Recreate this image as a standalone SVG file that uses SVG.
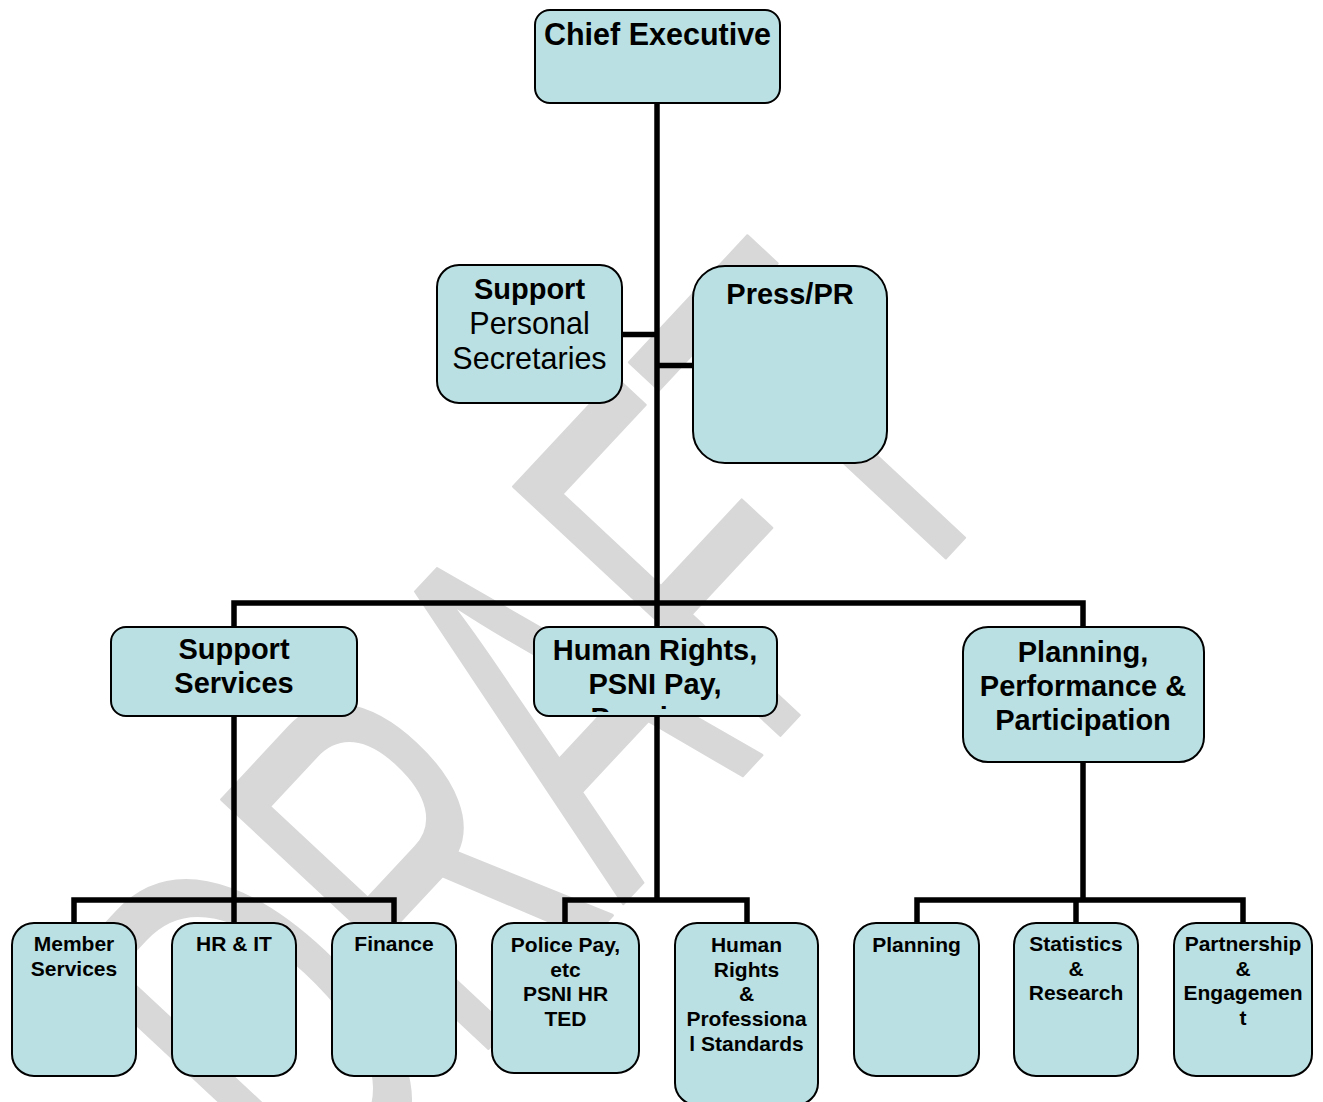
<svg xmlns="http://www.w3.org/2000/svg" width="1323" height="1102" viewBox="0 0 1323 1102">
<defs>
<style>
.box{fill:#bae0e3;stroke:#000;stroke-width:2}
.t{font-family:'Liberation Sans',Arial,sans-serif;fill:#000;text-anchor:middle}
.b{font-weight:bold}
.l{font-size:29px}
.s{font-size:21px;font-weight:bold}
.conn{fill:none;stroke:#000;stroke-width:5.5;stroke-linejoin:miter;stroke-linecap:butt}
.wm{font-family:'Liberation Sans',Arial,sans-serif;font-size:530px;fill:#d8d8d8;stroke:#d8d8d8;stroke-width:3;stroke-linejoin:round}
</style>
<clipPath id="hrclip"><rect x="534" y="627" width="243" height="85"/></clipPath>
</defs>
<rect width="1323" height="1102" fill="#fff"/>
<g id="watermark">
<text class="wm" transform="translate(319,1230) rotate(-47)" textLength="1027" lengthAdjust="spacingAndGlyphs">DRAFT</text>
</g>
<g id="connectors">
<path class="conn" d="M657,103 V627"/>
<path class="conn" d="M622,334.5 H657"/>
<path class="conn" d="M657,365.5 H693"/>
<path class="conn" d="M234,627 V603 H1083 V627"/>
<path class="conn" d="M234,716 V923"/>
<path class="conn" d="M74,923 V900 H394 V923"/>
<path class="conn" d="M657,716 V900"/>
<path class="conn" d="M565,923 V900 H747 V923"/>
<path class="conn" d="M1083,762 V900"/>
<path class="conn" d="M917,923 V900 H1243 V923"/>
<path class="conn" d="M1076,900 V923"/>
</g>
<g id="chief">
<rect class="box" x="535" y="10" width="245" height="93" rx="15"/>
<text class="t b" style="font-size:30.5px" x="657.5" y="45">Chief Executive</text>
</g>
<g id="sps">
<rect class="box" x="437" y="265" width="185" height="138" rx="22"/>
<text class="t" style="font-size:30.5px" x="529.5" y="299"><tspan class="b" style="font-size:29px">Support</tspan><tspan x="529.5" y="334">Personal</tspan><tspan x="529.5" y="369">Secretaries</tspan></text>
</g>
<g id="press">
<rect class="box" x="693" y="266" width="194" height="197" rx="32"/>
<text class="t b l" x="790" y="304">Press/PR</text>
</g>
<g id="support-services">
<rect class="box" x="111" y="627" width="246" height="89" rx="15"/>
<text class="t b l" x="234" y="659">Support<tspan x="234" y="693">Services</tspan></text>
</g>
<g id="human-rights">
<rect class="box" x="534" y="627" width="243" height="89" rx="15"/>
<text class="t b l" x="655" y="660" clip-path="url(#hrclip)">Human Rights,<tspan x="655" y="694">PSNI Pay,</tspan><tspan x="655" y="728">Pensions</tspan></text>
</g>
<g id="planning-perf">
<rect class="box" x="963" y="627" width="241" height="135" rx="25"/>
<text class="t b l" x="1083" y="662">Planning,<tspan x="1083" y="696">Performance &amp;</tspan><tspan x="1083" y="730">Participation</tspan></text>
</g>
<g id="member-services">
<rect class="box" x="12" y="923" width="124" height="153" rx="22"/>
<text class="t s" x="74" y="951">Member<tspan x="74" y="976">Services</tspan></text>
</g>
<g id="hr-it">
<rect class="box" x="172" y="923" width="124" height="153" rx="22"/>
<text class="t s" x="234" y="951">HR &amp; IT</text>
</g>
<g id="finance">
<rect class="box" x="332" y="923" width="124" height="153" rx="22"/>
<text class="t s" x="394" y="951">Finance</text>
</g>
<g id="police-pay">
<rect class="box" x="492" y="923" width="147" height="150" rx="22"/>
<text class="t s" x="565.5" y="952">Police Pay,<tspan x="565.5" y="977">etc</tspan><tspan x="565.5" y="1001">PSNI HR</tspan><tspan x="565.5" y="1026">TED</tspan></text>
</g>
<g id="hr-prof">
<rect class="box" x="675" y="923" width="143" height="182" rx="22"/>
<text class="t s" x="746.5" y="952">Human<tspan x="746.5" y="977">Rights</tspan><tspan x="746.5" y="1001">&amp;</tspan><tspan x="746.5" y="1026">Professiona</tspan><tspan x="746.5" y="1051">l Standards</tspan></text>
</g>
<g id="planning">
<rect class="box" x="854" y="923" width="125" height="153" rx="22"/>
<text class="t s" x="916.5" y="952">Planning</text>
</g>
<g id="statistics">
<rect class="box" x="1014" y="923" width="124" height="153" rx="22"/>
<text class="t s" x="1076" y="951">Statistics<tspan x="1076" y="976">&amp;</tspan><tspan x="1076" y="1000">Research</tspan></text>
</g>
<g id="partnership">
<rect class="box" x="1174" y="923" width="138" height="153" rx="22"/>
<text class="t s" x="1243" y="951">Partnership<tspan x="1243" y="976">&amp;</tspan><tspan x="1243" y="1000">Engagemen</tspan><tspan x="1243" y="1025">t</tspan></text>
</g>
</svg>
